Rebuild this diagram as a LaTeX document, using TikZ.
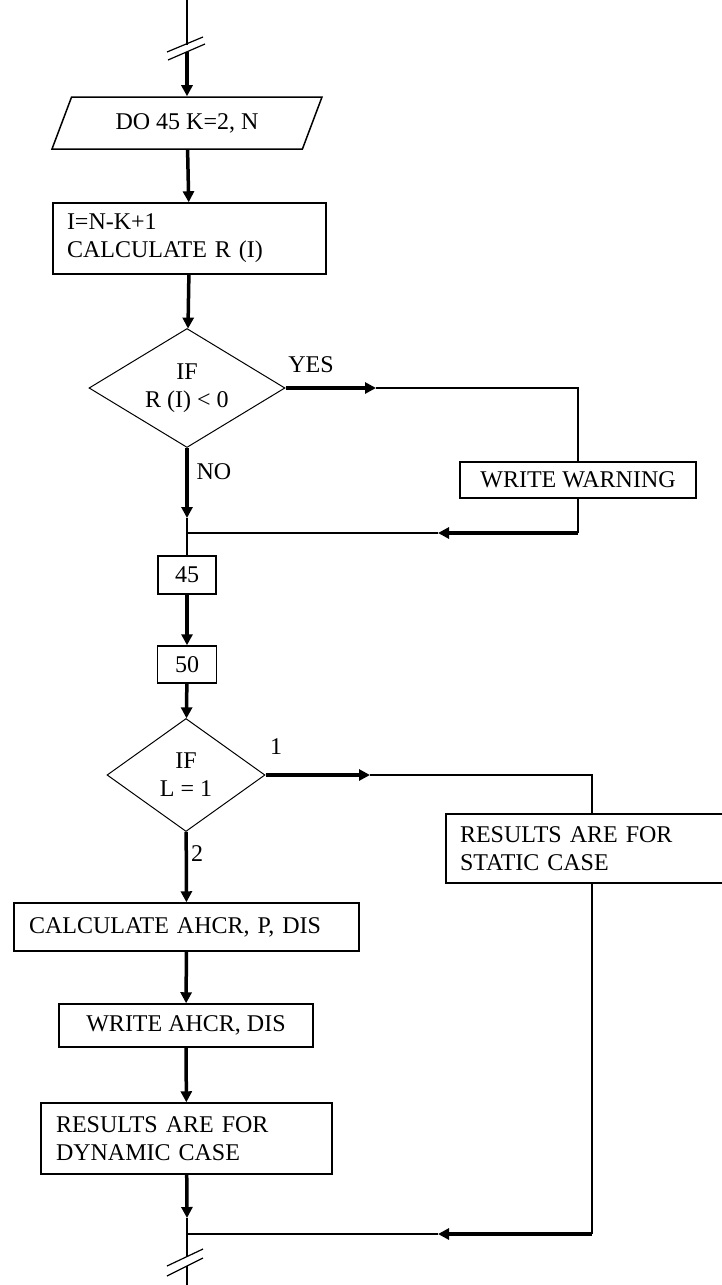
\documentclass[tikz,border=0pt]{standalone}
\usepackage{fontspec}
\setmainfont{Liberation Serif}
\usetikzlibrary{arrows.meta, calc, shapes.geometric}

\begin{document}
\begin{tikzpicture}[x=1pt, y=-1pt,
  >={Triangle[length=11pt, width=11pt]}, line width=1.3pt,
  font=\fontsize{24}{28}\selectfont,
  block/.style={draw, line width=1.5pt, inner sep=0pt},
  cond/.style={draw, diamond, line width=1pt, inner sep=0pt, align=center},
  heavy/.style={line width=3.5pt},
  brk/.style={line width=1.2pt}]

  \useasboundingbox (0,0) rectangle (722,1285);

  % entrada y bucle DO
  \coordinate (top) at (187,0);
  \coordinate (b1a) at (187,45);
  \coordinate (b1b) at (187,52);
  \node[trapezium, trapezium left angle=45, trapezium right angle=135,
        trapezium stretches body, draw, line width=1.5pt,
        minimum width=270, minimum height=52, inner sep=0pt] (do) at (187,123) {DO 45 K=2, N};
  \node[block, minimum width=273, minimum height=71, text width=245, align=left]
        (calr) at (189.5,238.5) {I=N-K+1\\CALCULATE R (I)};

  % primera decision
  \node[cond, aspect=1.65, minimum width=196, minimum height=119] (if1) at (187,388) {IF\\R (I) < 0};
  \node (yes) at (311,365) {YES};
  \node (no)  at (214,472) {NO};
  \coordinate (ya) at (376,388);
  \coordinate (yc) at (578,388);
  \node[block, minimum width=236, minimum height=36] (warn) at (578,480) {WRITE WARNING};
  \coordinate (wc) at (578,533);
  \coordinate (wa) at (438,533);
  \coordinate (na) at (187,518);
  \coordinate (j1) at (187,533);

  \draw (top) -- (b1a);
  \draw[brk] ($(b1a)+(-20,7)$) -- ($(b1a)+(16,-8)$);
  \draw[brk] ($(b1b)+(-19,8)$) -- ($(b1b)+(18,-8)$);
  \draw[heavy, ->] (b1b) -- (do);
  \draw[heavy, ->] (do) -- (calr);
  \draw[heavy, ->] (calr) -- (if1);
  \draw[heavy, ->] (if1.east) -- (ya);
  \draw (ya) -- (yc) -- (warn);
  \draw (warn) -- (wc);
  \draw[heavy, ->] (wc) -- (wa);
  \draw (wa) -- (j1);
  \draw[heavy, ->] (if1) -- (na);

  % etiquetas 45 y 50
  \node[block, minimum width=58, minimum height=38] (n45) at (187,575) {45};
  \node[block, minimum width=59, minimum height=37] (n50) at (187,664.5) {50};
  \draw (na) -- (n45);
  \draw[heavy, ->] (n45) -- (n50);

  % segunda decision
  \node[cond, aspect=1.4, minimum width=158, minimum height=113] (if2) at (186,775) {IF\\L = 1};
  \node (one) at (276,747) {1};
  \node (two) at (197,854) {2};
  \coordinate (oa) at (370,775);
  \coordinate (oc) at (592,775);
  \node[block, minimum width=278, minimum height=69, text width=250, align=left]
        (stat) at (585,848.5) {RESULTS ARE FOR\\STATIC CASE};
  \draw[heavy, ->] (n50) -- (if2);
  \draw[heavy, ->] (if2.east) -- (oa);
  \draw (oa) -- (oc) -- (oc |- stat.north);

  % rama dinamica
  \node[block, minimum width=345, minimum height=48, text width=315, align=left]
        (cdis) at (186.5,927) {CALCULATE AHCR, P, DIS};
  \node[block, minimum width=254, minimum height=43] (wdis) at (186,1025.5) {WRITE AHCR, DIS};
  \node[block, minimum width=291, minimum height=71, text width=261, align=left]
        (dyn) at (186.5,1138.5) {RESULTS ARE FOR\\DYNAMIC CASE};
  \draw[heavy, ->] (if2) -- (cdis);
  \draw[heavy, ->] (cdis) -- (wdis);
  \draw[heavy, ->] (wdis) -- (dyn);

  % union y salida
  \coordinate (da) at (187,1218);
  \coordinate (j2) at (187,1234);
  \coordinate (sc) at (592,1234);
  \coordinate (sa) at (438,1234);
  \coordinate (b2a) at (187,1257);
  \coordinate (b2b) at (187,1266);
  \coordinate (bot) at (187,1285);
  \draw[heavy, ->] (dyn) -- (da);
  \draw (da) -- (j2) -- (b2a);
  \draw (stat.south -| sc) -- (sc);
  \draw[heavy, ->] (sc) -- (sa);
  \draw (sa) -- (j2);
  \draw[brk] ($(b2a)+(-20,9)$) -- ($(b2a)+(16,-8)$);
  \draw[brk] ($(b2b)+(-20,10)$) -- ($(b2b)+(16,-8)$);
  \draw (b2b) -- (bot);
\end{tikzpicture}
\end{document}
